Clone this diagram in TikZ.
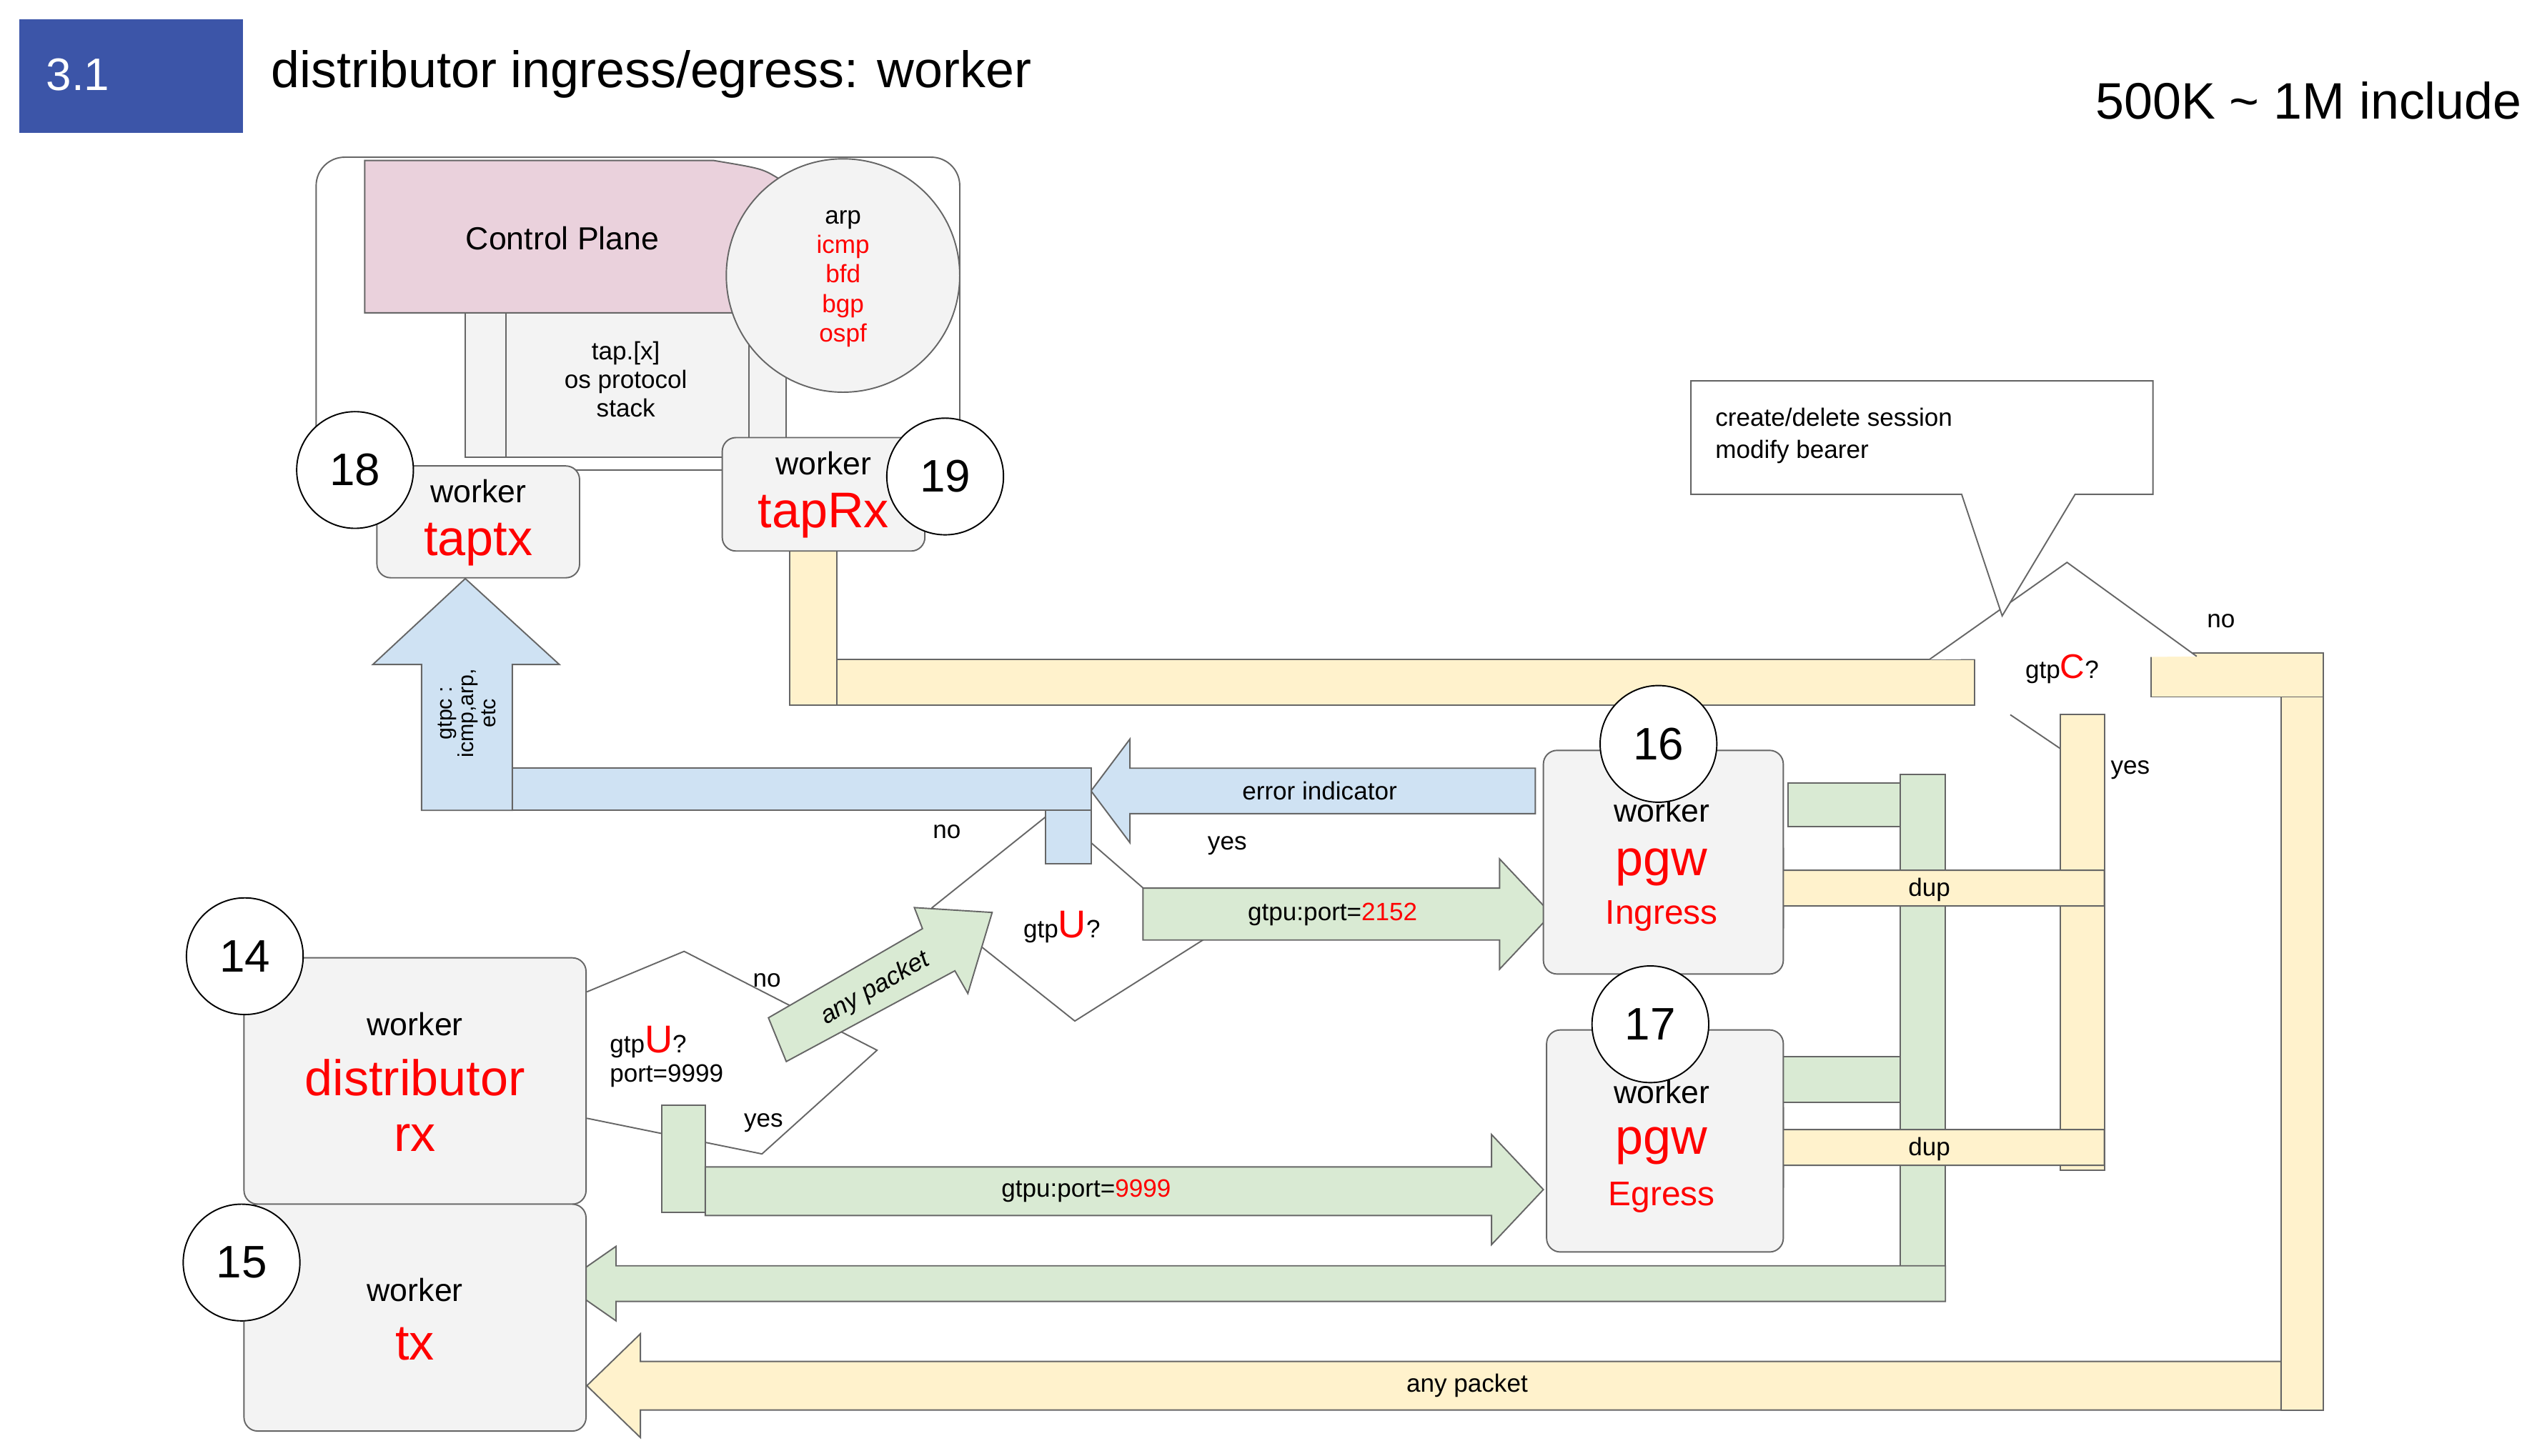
\documentclass[tikz,border=0pt]{standalone}
\usepackage{fontspec}
\setmainfont{Liberation Sans}
\usetikzlibrary{positioning}
\definecolor{TitleBlue}{HTML}{3C55A8}
\definecolor{PaleYellow}{HTML}{FFF2CC}
\definecolor{PaleGreen}{HTML}{D9EAD3}
\definecolor{PaleBlue}{HTML}{CFE2F3}
\definecolor{PalePink}{HTML}{EAD1DC}
\definecolor{PaleGray}{HTML}{F3F3F3}
\definecolor{EdgeGray}{HTML}{666666}
\newcommand{\fs}[1]{\fontsize{#1}{#1}\selectfont}
% left block arrow: style, tip x, centre y, head base x, shaft half, head half, tail x
\newcommand{\leftblock}[7]{\draw[#1] (#7,#3-#5) -- (#4,#3-#5) -- (#4,#3-#6) -- (#2,#3) -- (#4,#3+#6) -- (#4,#3+#5) -- (#7,#3+#5) -- cycle;}
\begin{document}
\begin{tikzpicture}[x=0.05cm,y=-0.05cm,
    bar/.style={draw=EdgeGray, line width=1.2pt},
    worker/.style={draw=EdgeGray, fill=PaleGray, rounded corners=12pt, line width=1.2pt},
    num/.style={circle, draw=black, fill=white, line width=1.2pt, minimum size=3.6cm, inner sep=0pt, font=\fs{40pt}},
    lbl/.style={font=\fs{22pt}, inner sep=0pt},
    big/.style={font=\fs{44pt}, text=red, inner sep=0pt},
    mid/.style={font=\fs{28pt}, inner sep=0pt},
    dia/.style={draw=EdgeGray, line width=1.2pt, fill=white}
]
\useasboundingbox (0,0) rectangle (1568,898);
% title
\fill[TitleBlue] (12,12) rectangle (150,82);
\node[text=white, font=\fs{40pt}, anchor=west] (sec) at (26,46) {3.1};
\node[font=\fs{45pt}, anchor=west] (title) at (165,46) {distributor ingress/egress: worker};
\node[font=\fs{45pt}, anchor=east] (note) at (1558,62) {500K \textasciitilde{} 1M include};

% control plane
\draw[worker, fill=white, rounded corners=25pt] (195,97) rectangle (592,290);
\draw[bar, fill=PalePink] (225,99) -- (440,99) .. controls (470,104) .. (480,110) -- (480,193) -- (225,193) -- cycle;
\draw[bar, fill=PaleGray] (287,193) rectangle (485,282);
\draw[bar] (312,193) -- (312,282) (462,193) -- (462,282);
\node[mid] (cp) at (347,147) {Control Plane};
\node[lbl, align=center] (tap) at (386,234) {tap.[x]\\[3pt]os protocol\\[3pt]stack};
\draw[bar, fill=PaleGray] (520,170) circle (72);
\node[lbl, align=center] (proto) at (520,172) {arp\\[4pt]\textcolor{red}{icmp}\\[4pt]\textcolor{red}{bfd}\\[4pt]\textcolor{red}{bgp}\\[4pt]\textcolor{red}{ospf}};

% yellow paths
\draw[bar, fill=PaleYellow] (487,340) rectangle (516,435);
\draw[bar, fill=PaleYellow] (516,407) rectangle (1218,435);
\draw[bar, fill=PaleYellow] (1327,403) rectangle (1433,430);
\draw[bar, fill=PaleYellow] (1407,430) rectangle (1433,870);
\leftblock{bar, fill=PaleYellow}{362}{855}{395}{15}{32}{1407}
\node[lbl] (anypk) at (905,855) {any packet};

% gtpC decision
\draw[dia] (1190,407) -- (1275,347) -- (1355,405);
\draw[dia] (1240,441) -- (1271,462);
\node[lbl] (gtpc) at (1272,413) {gtp\textcolor{red}{\fs{30pt}C}?};
\node[lbl] (cno) at (1370,383) {no};
\node[lbl] (cyes) at (1314,475) {yes};
\draw[bar, fill=white] (1043,235) -- (1328,235) -- (1328,305) -- (1280,305) -- (1235,380) -- (1210,305) -- (1043,305) -- cycle;
\node[lbl, anchor=west, align=left] (call) at (1058,269) {create/delete session\\[6pt]modify bearer};

% green paths
\draw[bar, fill=PaleGreen] (1172,478) rectangle (1200,798);
\draw[bar, fill=PaleGreen] (1103,483) rectangle (1172,510);
\draw[bar, fill=PaleGreen] (1100,652) rectangle (1172,680);
\leftblock{bar, fill=PaleGreen}{347}{792}{380}{11}{23}{1200}

% dup paths over the green bar
\draw[bar, fill=PaleYellow] (1271,441) rectangle (1298,722);
\leftblock{bar, fill=PaleYellow}{1073}{548}{1100}{11}{24}{1298}
\leftblock{bar, fill=PaleYellow}{1073}{708}{1100}{11}{24}{1298}
\node[lbl] (dup1) at (1190,549) {dup};
\node[lbl] (dup2) at (1190,709) {dup};

% gtpU decision (upper)
\draw[dia] (575,560) -- (650,500) -- (742,580) -- (663,630) -- cycle;
\node[lbl] (gtpu1) at (655,572) {gtp\textcolor{red}{\fs{34pt}U}?};
\node[lbl] (uno1) at (584,513) {no};
\node[lbl] (uyes1) at (757,522) {yes};
\draw[bar, fill=PaleGreen] (705,548) -- (925,548) -- (925,530) -- (957,564) -- (925,598) -- (925,580) -- (705,580) -- cycle;
\node[lbl] (p2152) at (822,564) {gtpu:port=\textcolor{red}{2152}};

% blue paths
\leftblock{bar, fill=PaleBlue}{673}{488}{697}{14}{32}{947}
\draw[bar, fill=PaleBlue] (297,474) rectangle (673,500);
\draw[bar, fill=PaleBlue] (645,500) rectangle (673,533);
\draw[bar, fill=PaleBlue] (260,500) -- (260,410) -- (230,410) -- (287,357) -- (345,410) -- (316,410) -- (316,500) -- cycle;
\node[lbl] (errind) at (814,488) {error indicator};
\node[font=\fs{19pt}, rotate=90, align=center, inner sep=0pt] (gtpcup) at (288,440) {gtpc :\\icmp,arp,\\etc};

% gtpU decision (lower)
\draw[dia] (362,612) -- (422,587) -- (541,648) -- (470,712) -- (362,690);
\node[lbl, anchor=west, align=left] (gtpu2) at (376,652) {gtp\textcolor{red}{\fs{34pt}U}?\\[4pt]port=9999};
\node[lbl] (uno2) at (473,605) {no};
\node[lbl] (uyes2) at (471,693) {yes};
\draw[bar, fill=PaleGreen] (485,655) -- (474,628) -- (569,573) -- (564,560) -- (612,563) -- (597,613) -- (589,599) -- cycle;
\node[lbl, rotate=30] (anypk2) at (540,610) {\itshape any packet};
\draw[bar, fill=PaleGreen] (408,682) rectangle (435,748);
\draw[bar, fill=PaleGreen] (435,720) -- (920,720) -- (920,700) -- (952,734) -- (920,768) -- (920,750) -- (435,750) -- cycle;
\node[lbl] (p9999) at (670,735) {gtpu:port=\textcolor{red}{9999}};

% workers
\node[worker, minimum width=6.25cm, minimum height=3.45cm] (taptx) at (295,322) {};
\node[mid] at (295,303) {worker};
\node[big] at (295,336) {taptx};
\node[worker, minimum width=6.25cm, minimum height=3.5cm] (taprx) at (508,305) {};
\node[mid] at (508,286) {worker};
\node[big] at (508,318) {tapRx};
\node[worker, minimum width=7.4cm, minimum height=6.9cm] (ingress) at (1026,532) {};
\node[mid] at (1025,500) {worker};
\node[big] at (1025,535) {pgw};
\node[font=\fs{30pt}, text=red, inner sep=0pt] at (1025,565) {Ingress};
\node[worker, minimum width=7.3cm, minimum height=6.85cm] (egress) at (1027,704) {};
\node[mid] at (1025,674) {worker};
\node[big] at (1025,707) {pgw};
\node[font=\fs{30pt}, text=red, inner sep=0pt] at (1025,739) {Egress};
\node[worker, minimum width=10.55cm, minimum height=7.6cm] (distrx) at (256,667) {};
\node[mid] at (256,632) {worker};
\node[big] at (256,665) {distributor};
\node[big] at (256,702) {rx};
\node[worker, minimum width=10.55cm, minimum height=7cm] (tx) at (256,813) {};
\node[mid] at (256,796) {worker};
\node[big] at (256,829) {tx};

% numbered circles
\node[num] (n18) at (219,290) {18};
\node[num] (n19) at (583,294) {19};
\node[num] (n16) at (1023,459) {16};
\node[num] (n17) at (1018,632) {17};
\node[num] (n14) at (151,590) {14};
\node[num] (n15) at (149,779) {15};
\end{tikzpicture}
\end{document}
